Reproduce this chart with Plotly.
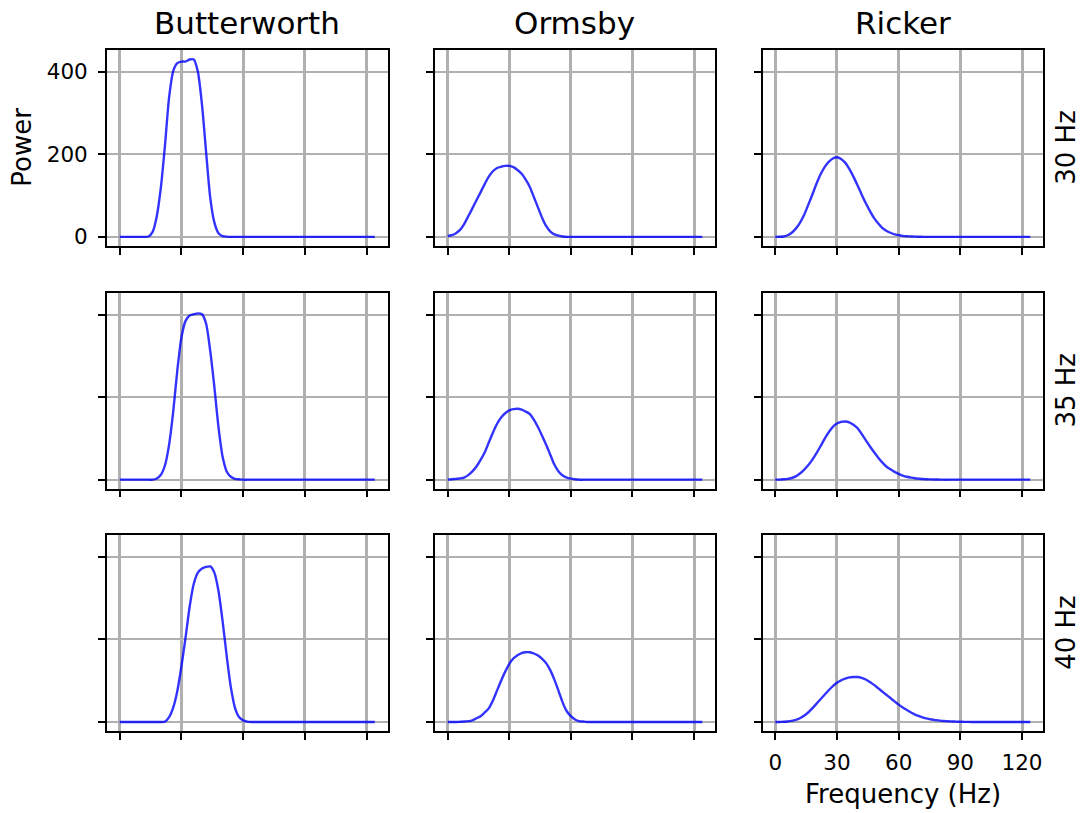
import plotly.graph_objects as go

# Frequency samples (Hz)
freqs = [0, 2, 4, 6, 8, 10, 12, 14, 16, 18, 20, 22, 24, 26, 28, 30, 32, 34, 36, 38,
         40, 42, 44, 46, 48, 50, 52, 54, 56, 58, 60, 62, 64, 66, 68, 70, 72, 74, 76, 78,
         80, 82, 84, 86, 88, 90, 92, 94, 96, 98, 100, 102, 104, 106, 108, 110, 112, 114,
         116, 118, 120, 122, 124]

filters = ["Butterworth", "Ormsby", "Ricker"]
centres = ["30 Hz", "35 Hz", "40 Hz"]

# Power spectra, one list per (centre frequency, filter)
butter_30 = [0, 0, 0, 0, 0, 0, 0, 1, 12, 50, 120, 222, 338, 402, 421, 425, 425, 430, 430, 400,
             320, 205, 95, 35, 9, 2, 0.5] + [0] * 36
butter_35 = [0, 0, 0, 0, 0, 0, 0, 0, 0, 3, 12, 35, 85, 165, 265, 345, 385, 398, 401, 403,
             401, 378, 312, 225, 128, 56, 20, 7, 2, 1] + [0] * 33
butter_40 = [0, 0, 0, 0, 0, 0, 0, 0, 0, 0, 0, 1, 12, 35, 75, 135, 205, 280, 335, 362,
             372, 376, 377, 362, 318, 245, 160, 85, 35, 12, 4, 1] + [0] * 31

ormsby_30 = [2, 4, 9, 17, 31, 50, 69, 89, 108, 128, 146, 159, 167, 170, 172, 172, 169, 162,
             153, 139, 121, 96, 71, 46, 26, 13, 6, 3, 1] + [0] * 34
ormsby_35 = [0, 1, 2, 3, 5, 11, 20, 32, 48, 66, 90, 114, 135, 151, 161, 168, 171, 172, 170,
             165, 159, 145, 127, 106, 84, 60, 36, 20, 10, 5, 2.5, 1] + [0] * 31
ormsby_40 = [0, 0, 0, 0.5, 1, 2, 4, 9, 14, 23, 33, 52, 76, 100, 122, 141, 154, 162, 167, 169,
             169, 166, 161, 153, 142, 125, 102, 75, 47, 26, 14, 6, 2, 1] + [0] * 29

ricker_30 = [0, 0.3, 1, 4, 10, 20, 34, 53, 77, 102, 128, 151, 169, 182, 190, 193, 189, 180,
             165, 146, 125, 103, 82, 63, 46, 33, 22, 15, 10, 6, 4, 2.5, 1.5, 1, 0.5, 0.3] + [0] * 27
ricker_35 = [0, 0.2, 1, 2, 4, 8, 15, 24, 35, 48, 64, 81, 99, 115, 128, 136, 140, 141, 139,
             133, 125, 111, 96, 81, 67, 54, 42, 32, 25, 19, 14, 10, 7, 5, 3.5, 2.5, 1.6, 1,
             0.7, 0.4, 0.2] + [0] * 22
ricker_40 = [0, 0.1, 0.4, 1, 2.5, 5, 9, 15, 23, 33, 44, 55, 66, 77, 87, 95, 101, 105, 108,
             109, 109, 107, 103, 97, 90, 82, 74, 66, 58, 50, 42, 35, 29, 23, 18, 14, 10.5, 8,
             6, 4.5, 3.2, 2.3, 1.7, 1.2, 0.8, 0.5, 0.3, 0.2] + [0] * 15

spectra = [
    [butter_30, ormsby_30, ricker_30],
    [butter_35, ormsby_35, ricker_35],
    [butter_40, ormsby_40, ricker_40],
]

x_ticks = [0, 30, 60, 90, 120]
y_ticks = [0, 200, 400]

W, H = 1090, 813
FONT = "DejaVu Sans"

# Panel boxes in pixels: (left, right) per column, (top, bottom) per row
col_px = [(107, 387.5), (435, 715), (762.5, 1043)]
row_px = [(50, 247), (294, 491), (537.5, 734.5)]

fig = go.Figure()
layout = dict(
    width=W, height=H,
    margin=dict(l=0, r=0, t=0, b=0),
    paper_bgcolor="white", plot_bgcolor="white",
    showlegend=False,
    font=dict(family=FONT, color="black"),
)

x_range = [-6.2, 130.2]
y_range = [-21.6, 453.6]

for r in range(3):
    for c in range(3):
        k = r * 3 + c + 1
        xa = "xaxis" if k == 1 else f"xaxis{k}"
        ya = "yaxis" if k == 1 else f"yaxis{k}"
        xref = "x" if k == 1 else f"x{k}"
        yref = "y" if k == 1 else f"y{k}"
        x0, x1 = col_px[c]
        t, b = row_px[r]
        layout[xa] = dict(
            domain=[x0 / W, x1 / W], anchor=yref, range=x_range,
            tickvals=x_ticks, showticklabels=(r == 2 and c == 2),
            ticks="outside", ticklen=7, tickwidth=1.6, tickcolor="black",
            ticklabelstandoff=4,
            showline=True, linecolor="black", linewidth=1.8, mirror=True,
            showgrid=True, gridcolor="#b0b0b0", gridwidth=2.5, zeroline=False,
            tickfont=dict(size=21.5, family=FONT, color="black"),
        )
        layout[ya] = dict(
            domain=[1 - b / H, 1 - t / H], anchor=xref, range=y_range,
            tickvals=y_ticks, showticklabels=(r == 0 and c == 0),
            ticks="outside", ticklen=7, tickwidth=1.6, tickcolor="black",
            ticklabelstandoff=6,
            showline=True, linecolor="black", linewidth=1.8, mirror=True,
            showgrid=True, gridcolor="#b0b0b0", gridwidth=2, zeroline=False,
            tickfont=dict(size=21.5, family=FONT, color="black"),
        )
        fig.add_trace(go.Scatter(
            x=freqs, y=spectra[r][c], mode="lines",
            line=dict(color="rgba(0,0,255,0.8)", width=2.4, shape="spline", smoothing=0.7),
            xaxis=xref, yaxis=yref, hoverinfo="skip",
        ))

annotations = []
# Column titles
for c, name in enumerate(filters):
    x0, x1 = col_px[c]
    annotations.append(dict(
        text=name, x=(x0 + x1) / 2 / W, y=1 - 23 / H, xref="paper", yref="paper",
        xanchor="center", yanchor="middle", showarrow=False,
        font=dict(size=31, family=FONT, color="black"),
    ))
# Row labels on the right
for r, name in enumerate(centres):
    t, b = row_px[r]
    annotations.append(dict(
        text=name, x=1066 / W, y=1 - (t + b) / 2 / H, xref="paper", yref="paper",
        xanchor="center", yanchor="middle", textangle=-90, showarrow=False,
        font=dict(size=26, family=FONT, color="black"),
    ))
# Axis labels
t, b = row_px[0]
annotations.append(dict(
    text="Power", x=22 / W, y=1 - (t + b) / 2 / H, xref="paper", yref="paper",
    xanchor="center", yanchor="middle", textangle=-90, showarrow=False,
    font=dict(size=26, family=FONT, color="black"),
))
x0, x1 = col_px[2]
annotations.append(dict(
    text="Frequency (Hz)", x=(x0 + x1) / 2 / W, y=1 - 798 / H, xref="paper", yref="paper",
    xanchor="center", yanchor="middle", showarrow=False,
    font=dict(size=26, family=FONT, color="black"),
))
layout["annotations"] = annotations

fig.update_layout(**layout)
fig.write_html("out.html")
